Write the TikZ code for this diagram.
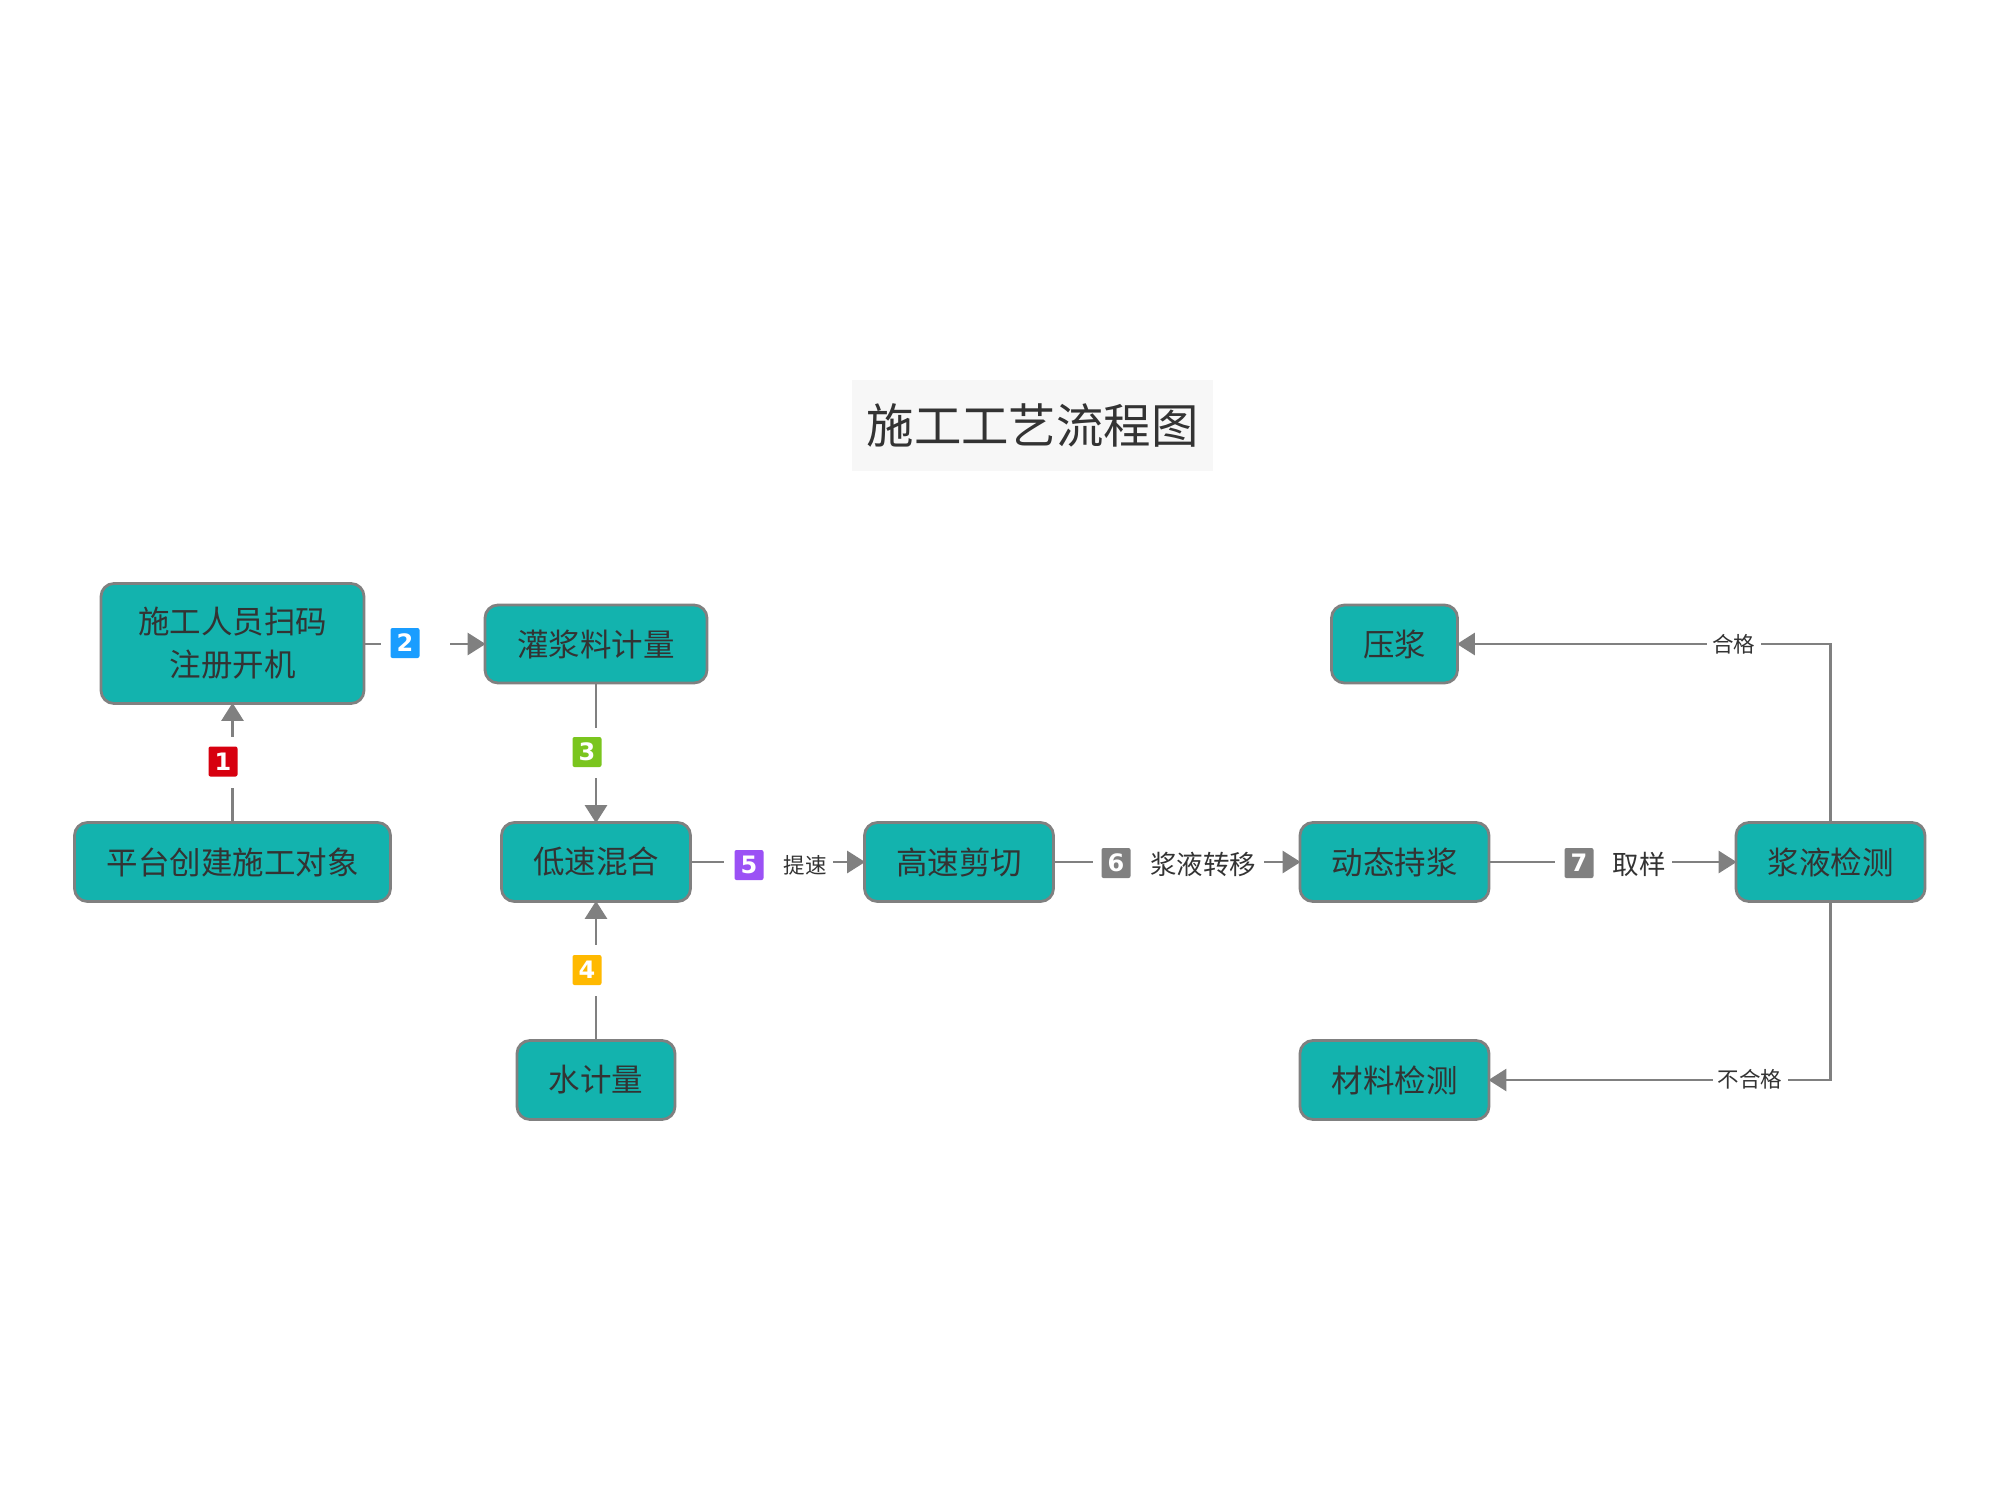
\documentclass[tikz,border=0pt]{standalone}
\usepackage{fontspec}
\usepackage{xcolor}
\usepackage{tikz}
\usetikzlibrary{arrows.meta}
\setmainfont{Noto Sans CJK SC}
\newfontfamily\digitfont{DejaVu Sans}
\definecolor{boxteal}{HTML}{13B3AE}
\definecolor{linegrey}{HTML}{808080}
\definecolor{textgrey}{HTML}{333333}
\definecolor{titlebg}{HTML}{F7F7F7}
\definecolor{badgered}{HTML}{D7000F}
\definecolor{badgeblue}{HTML}{1A9DFF}
\definecolor{badgegreen}{HTML}{7AC51E}
\definecolor{badgeyellow}{HTML}{FFB900}
\definecolor{badgepurple}{HTML}{9B51F5}
\tikzset{
  procbox/.style = {draw = linegrey, line width = 2.8pt, fill = boxteal, rounded corners = 13pt,
    text = textgrey, align = center, inner sep = 0pt, font = \fontsize{31.5}{43}\selectfont},
  conn/.style = {draw = linegrey, line width = 2.8pt, shorten > = -2pt, -{Triangle[length = 18pt, width = 22pt]}},
  gap/.style = {fill = white, inner sep = 0pt, minimum height = 12pt},
  badge/.style = {fill = #1, rounded corners = 2pt, text = white, inner sep = 0pt,
    minimum width = 29pt, minimum height = 30pt, font = \digitfont\bfseries\fontsize{24}{24}\selectfont},
  edgetext/.style = {text = textgrey, inner sep = 0pt, font = \fontsize{26.5}{30}\selectfont},
  smalltext/.style = {fill = white, text = textgrey, inner sep = 0pt, font = \fontsize{21.5}{26}\selectfont}
}

\begin{document}
\begin{tikzpicture}[x = 1pt, y = -1pt]
  \useasboundingbox[fill = white] (0,0) rectangle (2000,1500);

  \node[fill = titlebg, text = textgrey, minimum width = 361pt, minimum height = 91pt, inner sep = 0pt,
    font = \fontsize{47.4}{50}\selectfont] (title) at (1032.5,425.5) {\raisebox{-2pt}{施工工艺流程图}};

  \node[procbox, minimum width = 263pt, minimum height = 120pt] (saoma) at (232.5,643.5) {施工人员扫码\\注册开机};
  \node[procbox, minimum width = 222pt, minimum height = 78pt] (guanjiang) at (596,644) {灌浆料计量};
  \node[procbox, minimum width = 316pt, minimum height = 79pt] (pingtai) at (232.5,862) {平台创建施工对象};
  \node[procbox, minimum width = 189pt, minimum height = 79pt] (disu) at (596,862) {低速混合};
  \node[procbox, minimum width = 158pt, minimum height = 79pt] (shui) at (596,1080) {水计量};
  \node[procbox, minimum width = 189pt, minimum height = 79pt] (gaosu) at (959,862) {高速剪切};
  \node[procbox, minimum width = 189pt, minimum height = 79pt] (chijiang) at (1394.5,862) {动态持浆};
  \node[procbox, minimum width = 189pt, minimum height = 79pt] (jiance) at (1830.5,862) {浆液检测};
  \node[procbox, minimum width = 126pt, minimum height = 78pt] (yajiang) at (1394.5,644) {压浆};
  \node[procbox, minimum width = 189pt, minimum height = 79pt] (cailiao) at (1394.5,1080) {材料检测};

  \draw[conn] (pingtai) -- (saoma);
  \draw[conn] (saoma.east |- guanjiang) -- (guanjiang);
  \draw[conn] (guanjiang) -- (disu);
  \draw[conn] (shui) -- (disu);
  \draw[conn] (disu) -- (gaosu);
  \draw[conn] (gaosu) -- (chijiang);
  \draw[conn] (chijiang) -- (jiance);
  \draw[conn] (jiance.north) |- (yajiang);
  \draw[conn] (jiance.south) |- (cailiao);

  \node[gap, minimum width = 12pt, minimum height = 51pt] (gap1) at (232.5,762.5) {};
  \node[gap, minimum width = 69pt] (gap2) at (415.5,644) {};
  \node[gap, minimum width = 12pt, minimum height = 50pt] (gap3) at (596,753) {};
  \node[gap, minimum width = 12pt, minimum height = 51pt] (gap4) at (596,970.5) {};
  \node[gap, minimum width = 109pt] (gap5) at (778.5,862) {};
  \node[gap, minimum width = 171pt] (gap6) at (1178.5,862) {};
  \node[gap, minimum width = 117pt] (gap7) at (1613.5,862) {};

  \node[badge = badgered] (badge1) at (223,761.5) {1};
  \node[badge = badgeblue] (badge2) at (405,643) {2};
  \node[badge = badgegreen] (badge3) at (587,752) {3};
  \node[badge = badgeyellow] (badge4) at (587,970) {4};
  \node[badge = badgepurple] (badge5) at (749,865) {5};
  \node[badge = linegrey] (badge6) at (1116,863) {6};
  \node[badge = linegrey] (badge7) at (1579,863) {7};

  \node[smalltext] (tisu) at (805,865) {提速};
  \node[edgetext] (zhuanyi) at (1203,864) {浆液转移};
  \node[edgetext] (quyang) at (1639,864) {取样};
  \node[smalltext, minimum width = 54pt, minimum height = 12pt] (hege) at (1733.5,644) {合格};
  \node[smalltext, minimum width = 75pt, minimum height = 12pt] (buhege) at (1750,1079.5) {不合格};
\end{tikzpicture}
\end{document}
